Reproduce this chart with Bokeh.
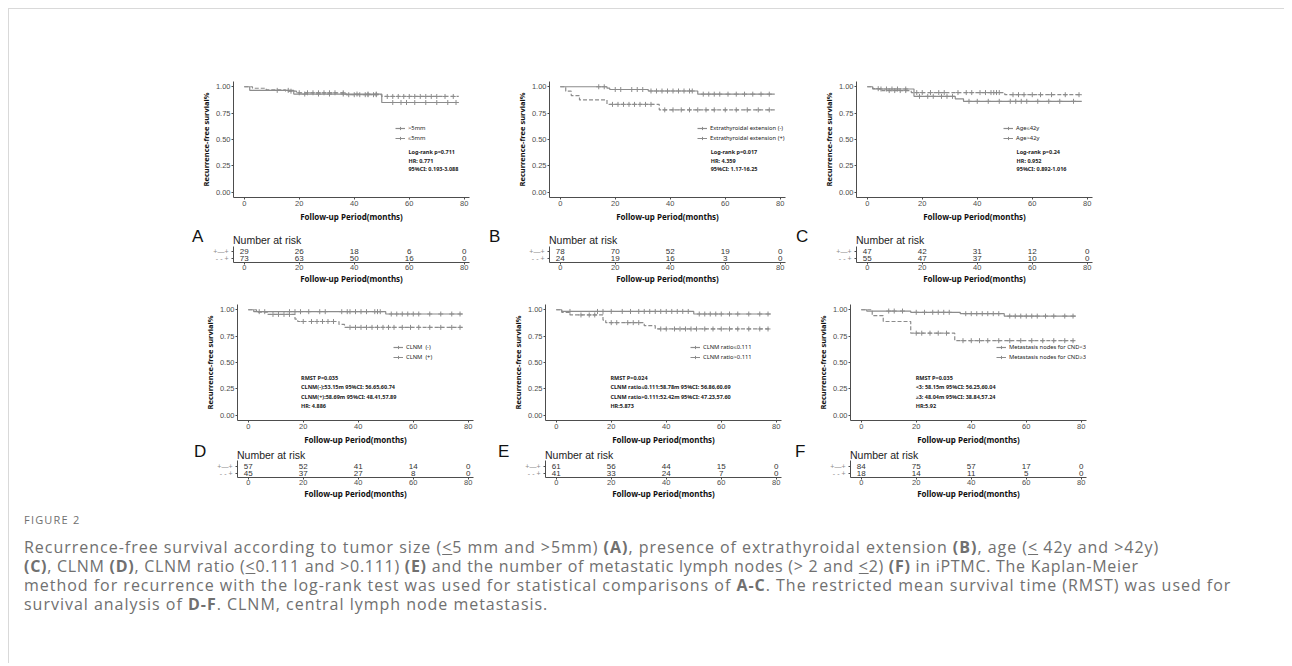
import numpy as np
from bokeh.plotting import figure
from bokeh.models import (Range1d, FixedTicker, NumeralTickFormatter, Legend, LegendItem,
                          Label, Spacer, Div)
from bokeh.layouts import row, column
from bokeh.core.properties import value
from bokeh.embed import file_html
from bokeh.resources import INLINE

# ---------------- data ----------------
risk_times = [0, 20, 40, 60, 80]
x_ticks = [0, 20, 40, 60, 80]
y_ticks = [0.0, 0.25, 0.5, 0.75, 1.0]
END_T = 78

# Panel A: tumor size
A_labels = [">5mm", "\u22645mm"]
A_solid_t = [0, 2, 18, 50]
A_solid_s = [1.0, 0.966, 0.931, 0.851]
A_solid_c = [12, 16, 22, 27, 31, 36, 41, 45, 48, 54, 57, 59, 62, 66, 70, 74, 77]
A_dash_t = [0, 3, 8, 15, 19, 37, 50]
A_dash_s = [1.0, 0.986, 0.972, 0.958, 0.943, 0.925, 0.908]
A_dash_c = [17, 20, 23, 25, 27, 29, 31, 33, 36, 38, 40, 42, 44, 45, 47, 48, 52, 54,
            56, 58, 60, 62, 64, 66, 68, 70, 73, 76]
A_risk_1 = [29, 26, 18, 6, 0]
A_risk_2 = [73, 63, 50, 16, 0]
A_text = ["Log-rank p=0.711", "HR: 0.771", "95%CI: 0.193-3.088"]

# Panel B: extrathyroidal extension
B_labels = ["Extrathyroidal extension (-)", "Extrathyroidal extension (+)"]
B_solid_t = [0, 17, 18, 32, 50]
B_solid_s = [1.0, 0.987, 0.974, 0.960, 0.930]
B_solid_c = [14, 16, 20, 22, 26, 28, 30, 33, 35, 37, 39, 41, 43, 45, 47, 48, 52, 54,
             56, 58, 61, 64, 67, 70, 73, 76]
B_dash_t = [0, 2, 4, 7, 17, 36]
B_dash_s = [1.0, 0.958, 0.917, 0.875, 0.833, 0.781]
B_dash_c = [19, 21, 23, 25, 27, 29, 31, 33, 38, 41, 44, 47, 50, 53, 56, 60, 64, 68, 72, 76]
B_risk_1 = [78, 70, 52, 19, 0]
B_risk_2 = [24, 19, 16, 3, 0]
B_text = ["Log-rank p=0.017", "HR: 4.359", "95%CI: 1.17-16.25"]

# Panel C: age
C_labels = ["Age\u226442y", "Age>42y"]
C_solid_t = [0, 2, 17, 32, 35]
C_solid_s = [1.0, 0.979, 0.909, 0.886, 0.862]
C_solid_c = [5, 7, 9, 11, 14, 19, 22, 24, 27, 29, 31, 37, 40, 44, 48, 52, 54, 56, 58,
             62, 66, 70, 75]
C_dash_t = [0, 2, 5, 16, 50]
C_dash_s = [1.0, 0.982, 0.964, 0.945, 0.925]
C_dash_c = [4, 8, 10, 12, 14, 18, 20, 23, 26, 28, 33, 36, 38, 41, 43, 45, 46, 47, 48,
            53, 55, 57, 60, 63, 67, 72, 77]
C_risk_1 = [47, 42, 31, 12, 0]
C_risk_2 = [55, 47, 37, 10, 0]
C_text = ["Log-rank p=0.24", "HR: 0.952", "95%CI: 0.892-1.016"]

# Panel D: CLNM
D_labels = ["CLNM  (-)", "CLNM  (+)"]
D_solid_t = [0, 2, 50]
D_solid_s = [1.0, 0.982, 0.960]
D_solid_c = [4, 6, 15, 17, 19, 22, 26, 28, 34, 36, 37, 39, 41, 43, 46, 47, 48, 52, 54,
             56, 58, 60, 62, 66, 70, 74, 77]
D_dash_t = [0, 3, 7, 17, 18, 33, 35]
D_dash_s = [1.0, 0.978, 0.956, 0.911, 0.889, 0.861, 0.833]
D_dash_c = [9, 11, 13, 15, 20, 23, 25, 27, 29, 31, 37, 39, 41, 43, 45, 47, 49, 51, 53,
            56, 59, 62, 66, 70, 74, 77]
D_risk_1 = [57, 52, 41, 14, 0]
D_risk_2 = [45, 37, 27, 8, 0]
D_text = ["RMST P=0.035", "CLNM(-):53.15m  95%CI: 56.65,60.74",
          "CLNM(+):58.69m 95%CI: 48.41,57.89", "HR: 4.886"]

# Panel E: CLNM ratio
E_labels = ["CLNM ratio\u22640.111", "CLNM ratio>0.111"]
E_solid_t = [0, 2, 50]
E_solid_s = [1.0, 0.984, 0.960]
E_solid_c = [5, 15, 17, 20, 24, 27, 30, 32, 34, 36, 38, 40, 42, 44, 46, 48, 52, 54, 56,
             58, 60, 63, 66, 70, 74, 77]
E_dash_t = [0, 2, 5, 17, 18, 32, 36]
E_dash_s = [1.0, 0.976, 0.951, 0.902, 0.878, 0.849, 0.818]
E_dash_c = [9, 12, 14, 20, 22, 26, 28, 30, 38, 40, 43, 45, 47, 49, 51, 54, 57, 60, 63,
            66, 70, 74, 77]
E_risk_1 = [61, 56, 44, 15, 0]
E_risk_2 = [41, 33, 24, 7, 0]
E_text = ["RMST P=0.024", "CLNM ratio\u22640.111:58.78m 95%CI: 56.86,60.69",
          "CLNM ratio>0.111:52.42m 95%CI: 47.23,57.60", "HR:5.873"]

# Panel F: number of metastatic nodes
F_labels = ["Metastasis nodes for CND<3", "Metastasis nodes for CND\u22653"]
F_solid_t = [0, 2, 18, 36, 52]
F_solid_s = [1.0, 0.988, 0.976, 0.963, 0.940]
F_solid_c = [10, 12, 15, 20, 23, 26, 28, 30, 32, 38, 40, 42, 44, 46, 48, 50, 54, 56,
             58, 60, 62, 64, 67, 70, 74, 77]
F_dash_t = [0, 4, 8, 18, 34]
F_dash_s = [1.0, 0.944, 0.889, 0.778, 0.707]
F_dash_c = [20, 22, 25, 28, 31, 37, 40, 43, 46, 50, 54, 58, 62, 66, 70, 74, 77]
F_risk_1 = [84, 75, 57, 17, 0]
F_risk_2 = [18, 14, 11, 5, 0]
F_text = ["RMST P=0.035", "<3: 58.15m 95%CI: 56.25,60.04",
          "\u22653: 48.04m 95%CI: 38.84,57.24", "HR:5.92"]

panel_letters = ["A", "B", "C", "D", "E", "F"]

# ---------------- style ----------------
CURVE = "#8c8c8c"
AXIS = "#4d4d4d"
TICK_FONT = "Liberation Sans"
TITLE_FONT = "Noto Sans"
XR = (-3.9, 81.9)
FRAME_W = 236


def style_axes(p):
    for ax in (p.xaxis[0], p.yaxis[0]):
        ax.axis_line_color = AXIS
        ax.axis_line_width = 1
        ax.major_tick_line_color = AXIS
        ax.major_tick_out = 2
        ax.major_tick_in = 0
        ax.minor_tick_line_color = None
        ax.major_label_text_font = TICK_FONT
        ax.major_label_text_font_size = "7.5px"
        ax.major_label_text_color = "#4d4d4d"
        ax.major_label_standoff = 1
        ax.axis_label_text_font = TITLE_FONT
        ax.axis_label_text_font_style = "bold"
        ax.axis_label_text_font_size = "8px"
        ax.axis_label_text_color = "#111111"
        ax.axis_label_standoff = 2
    p.grid.visible = False
    p.outline_line_color = None
    p.background_fill_color = "white"
    p.border_fill_color = "white"


def step_xy(t, s):
    return list(t) + [END_T], list(s) + [s[-1]]


def cens_y(t, s, c):
    idx = np.searchsorted(np.array(t), np.array(c), side="right") - 1
    return np.array(s)[idx]


def km_fig(d, mbl, mbr, leg_xy, annot_x, annot_v):
    width = mbl + FRAME_W + mbr
    p = figure(width=width, height=147, x_range=Range1d(*XR),
               y_range=Range1d(-0.05, 1.05), output_backend="svg",
               toolbar_location=None, min_border_left=mbl, min_border_right=mbr,
               min_border_top=4, min_border_bottom=26)
    style_axes(p)
    p.xaxis.ticker = FixedTicker(ticks=x_ticks)
    p.yaxis.ticker = FixedTicker(ticks=y_ticks)
    p.yaxis.formatter = NumeralTickFormatter(format="0.00")
    p.xaxis.axis_label = "Follow-up Period(months)"
    p.yaxis.axis_label = "Recurrence-free survial%"
    p.yaxis.axis_label_text_font_size = "7.5px"

    xs, ys = step_xy(d["st"], d["ss"])
    l1 = p.step(xs, ys, mode="after", line_color=CURVE, line_width=1.2)
    c1 = p.scatter(d["sc"], cens_y(d["st"], d["ss"], d["sc"]), marker="cross",
                   size=5, line_color=CURVE, line_width=1)
    xs, ys = step_xy(d["dt"], d["ds"])
    l2 = p.step(xs, ys, mode="after", line_color=CURVE, line_width=1.2,
                line_dash="4 2")
    c2 = p.scatter(d["dc"], cens_y(d["dt"], d["ds"], d["dc"]), marker="cross",
                   size=5, line_color=CURVE, line_width=1)

    leg = Legend(items=[LegendItem(label=d["labels"][0], renderers=[l1, c1]),
                        LegendItem(label=d["labels"][1], renderers=[l2, c2])],
                 location=leg_xy, padding=0, margin=0, spacing=2,
                 glyph_height=8, glyph_width=10, label_height=8,
                 label_standoff=3, label_text_font=TITLE_FONT,
                 label_text_font_size="5.8px", label_text_color="#222222",
                 background_fill_alpha=0, border_line_alpha=0)
    p.add_layout(leg)

    for txt, v in zip(d["text"], annot_v):
        p.add_layout(Label(x=annot_x, y=v, text=txt, text_font=TITLE_FONT,
                           text_font_size="5.5px", text_font_style="bold",
                           text_color="#222222", text_baseline="middle",
                           text_align="left"))
    return p


def table_fig(d, mbl, mbr, frame_h, top_v):
    width = mbl + FRAME_W + mbr
    mbb = 28
    p = figure(width=width, height=frame_h + mbb, x_range=Range1d(*XR),
               y_range=Range1d(1 - 4 / 7, top_v), output_backend="svg",
               toolbar_location=None, min_border_left=mbl, min_border_right=mbr,
               min_border_top=0, min_border_bottom=mbb)
    style_axes(p)
    p.xaxis.ticker = FixedTicker(ticks=x_ticks)
    p.xaxis.axis_label = "Follow-up Period(months)"
    p.xaxis.axis_label_standoff = 0
    p.xaxis.major_label_standoff = 0
    p.yaxis.ticker = FixedTicker(ticks=[1, 2])
    p.yaxis.major_label_overrides = {2: "+\u2014+", 1: "- - +"}
    p.yaxis.major_label_text_color = CURVE
    p.yaxis.major_label_text_font_size = "7px"
    p.yaxis.major_label_standoff = 3
    p.text(risk_times, [2] * len(risk_times), text=[str(v) for v in d["r1"]],
           text_font=value(TICK_FONT), text_font_size="8px", text_color="#333333",
           text_align="center", text_baseline="middle")
    p.text(risk_times, [1] * len(risk_times), text=[str(v) for v in d["r2"]],
           text_font=value(TICK_FONT), text_font_size="8px", text_color="#333333",
           text_align="center", text_baseline="middle")
    return p


def pack(labels, st, ss, sc, dt, ds, dc, r1, r2, text):
    return dict(labels=labels, st=st, ss=ss, sc=sc, dt=dt, ds=ds, dc=dc,
                r1=r1, r2=r2, text=text)


A = pack(A_labels, A_solid_t, A_solid_s, A_solid_c, A_dash_t, A_dash_s, A_dash_c,
         A_risk_1, A_risk_2, A_text)
B = pack(B_labels, B_solid_t, B_solid_s, B_solid_c, B_dash_t, B_dash_s, B_dash_c,
         B_risk_1, B_risk_2, B_text)
C = pack(C_labels, C_solid_t, C_solid_s, C_solid_c, C_dash_t, C_dash_s, C_dash_c,
         C_risk_1, C_risk_2, C_text)
D = pack(D_labels, D_solid_t, D_solid_s, D_solid_c, D_dash_t, D_dash_s, D_dash_c,
         D_risk_1, D_risk_2, D_text)
E = pack(E_labels, E_solid_t, E_solid_s, E_solid_c, E_dash_t, E_dash_s, E_dash_c,
         E_risk_1, E_risk_2, E_text)
F = pack(F_labels, F_solid_t, F_solid_s, F_solid_c, F_dash_t, F_dash_s, F_dash_c,
         F_risk_1, F_risk_2, F_text)

row1_v = [0.38, 0.30, 0.22]
row2_v = [0.355, 0.265, 0.175, 0.085]

# row 1 (frame lefts 233, 549, 856)
kA = km_fig(A, 45, 17, (162, 55), 59.7, row1_v)
kB = km_fig(B, 63, 10, (148, 55), 54.7, row1_v)
kC = km_fig(C, 61, 14, (147, 55), 54.3, row1_v)
tA = table_fig(A, 45, 17, 16, 2 + 5 / 7)
tB = table_fig(B, 63, 10, 16, 2 + 5 / 7)
tC = table_fig(C, 61, 14, 16, 2 + 5 / 7)

# row 2 (frame lefts 237, 545, 850)
kD = km_fig(D, 46, 22, (156, 59), 19.2, row2_v)
kE = km_fig(E, 50, 11, (145, 59), 19.7, row2_v)
kF = km_fig(F, 58, 20, (146, 59), 19.8, row2_v)
tD = table_fig(D, 46, 22, 17, 2 + 6 / 7)
tE = table_fig(E, 50, 11, 17, 2 + 6 / 7)
tF = table_fig(F, 58, 20, 17, 2 + 6 / 7)


def letter_div(height, letters, letter_lefts, nar_lefts, letter_top, nar_top):
    spans = []
    for L, lx, nx in zip(letters, letter_lefts, nar_lefts):
        spans.append(
            f"<span style=\"position:absolute;left:{lx}px;top:{letter_top}px;"
            f"font-family:'Liberation Sans',sans-serif;font-size:17px;line-height:17px;"
            f"color:#111;\">{L}</span>")
        spans.append(
            f"<span style=\"position:absolute;left:{nx}px;top:{nar_top}px;"
            f"font-family:'Liberation Sans',sans-serif;font-size:10.5px;line-height:11px;"
            f"color:#222;white-space:nowrap;\">Number at risk</span>")
    html = (f"<div style=\"position:relative;width:1200px;height:{height}px;overflow:visible;\">"
            + "".join(spans) + "</div>")
    return Div(text=html, width=1200, height=height, margin=0,
               styles={"overflow": "visible"})


let1 = letter_div(22, panel_letters[:3], [183, 480, 787], [224, 540, 847], 3.5, 10.5)
let2 = letter_div(13, panel_letters[3:], [185, 489, 786], [228, 536, 841], -4.5, 2.5)

r1k = row(Spacer(width=179, height=10), kA, kB, kC)
r1t = row(Spacer(width=179, height=10), tA, tB, tC)
r2k = row(Spacer(width=182, height=10), kD, kE, kF)
r2t = row(Spacer(width=182, height=10), tD, tE, tF)

caption_title = "FIGURE 2"
caption_lines = [
    "Recurrence-free survival according to tumor size (<u>&lt;</u>5 mm and &gt;5mm) <b>(A)</b>, "
    "presence of extrathyroidal extension <b>(B)</b>, age (<u>&lt;</u> 42y and &gt;42y)",
    "<b>(C)</b>, CLNM <b>(D)</b>, CLNM ratio (<u>&lt;</u>0.111 and &gt;0.111) <b>(E)</b> and the "
    "number of metastatic lymph nodes (&gt; 2 and <u>&lt;</u>2) <b>(F)</b> in iPTMC. "
    "The Kaplan&#8209;Meier",
    "method for recurrence with the log-rank test was used for statistical comparisons of "
    "<b>A-C</b>. The restricted mean survival time (RMST) was used for",
    "survival analysis of <b>D-F</b>. CLNM, central lymph node metastasis.",
]
line_spacing = ["0.98px", "0.72px", "0.98px", "0.98px"]

# each caption line is an absolutely placed, non-wrapping block
cap_spans = [
    f"<span style=\"position:absolute;left:15px;top:7px;font-size:11px;letter-spacing:1.2px;"
    f"line-height:15px;white-space:nowrap;\">{caption_title}</span>"
]
for i, (ln, ls) in enumerate(zip(caption_lines, line_spacing)):
    cap_spans.append(
        f"<span style=\"position:absolute;left:15px;top:{33 + 19 * i}px;font-size:16px;"
        f"line-height:19px;letter-spacing:{ls};white-space:nowrap;display:block;"
        f"width:max-content;\">{ln}</span>")
caption_html = (
    "<div style=\"position:relative;width:1275px;height:158px;"
    "font-family:'Open Sans',sans-serif;color:#707070;\">"
    + "".join(cap_spans) + "</div>"
)
cap = Div(text=caption_html, width=1275, height=158, margin=0,
          styles={"overflow": "visible"})

framed = column(Spacer(width=10, height=68), r1k, let1, r1t, Spacer(width=10, height=10),
                r2k, let2, r2t, cap,
                styles={"border-top": "1px solid #d9d9d9", "border-left": "1px solid #d9d9d9"})
page = row(Spacer(width=8, height=8), column(Spacer(width=8, height=8), framed))

open("out.html", "w").write(file_html(page, INLINE))
